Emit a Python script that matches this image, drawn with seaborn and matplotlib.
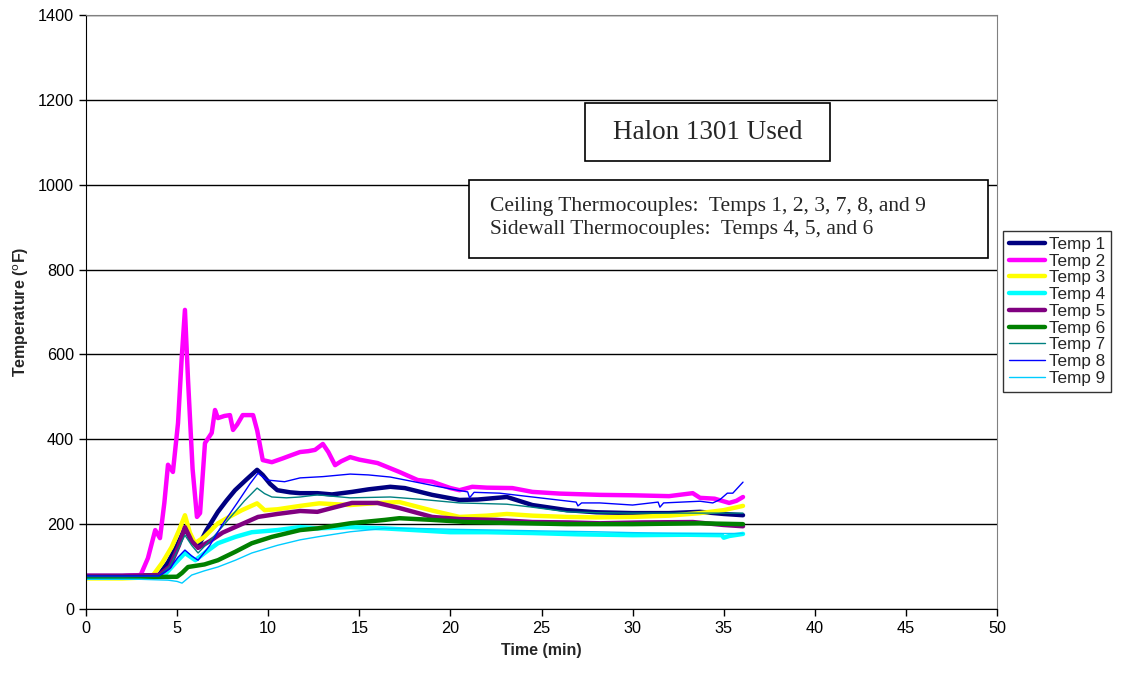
import seaborn as sns
import pandas as pd
import matplotlib.pyplot as plt
from matplotlib.patches import Rectangle

# time (min) / temperature (F)
t1 = [0, 2, 4.0, 4.5, 5.0, 5.43, 5.8, 6.15, 6.6, 7.24, 7.7, 8.18, 8.8, 9.39, 9.7, 10.1, 10.5, 11.2, 11.75, 12.7,
      13.5, 14.6, 15.5, 16.7, 17.5, 19.0, 20.5, 21.5, 23.1, 24.5, 26.4, 28.0, 30.0, 32.0, 33.7, 35.0, 36.06]
temp1 = [78, 78, 80, 110, 150, 190, 160, 146, 185, 229, 255, 280, 305, 328, 316, 295, 280, 275, 273, 273,
         270, 276, 282, 288, 285, 269, 257, 258, 264, 245, 233, 228, 226, 226, 229, 224, 221]

t2 = [0, 1, 2, 3.0, 3.4, 3.8, 4.06, 4.3, 4.5, 4.77, 5.05, 5.25, 5.43, 5.6, 5.85, 6.09, 6.26, 6.53, 6.9, 7.08,
      7.24, 7.6, 7.9, 8.07, 8.3, 8.6, 9.17, 9.4, 9.7, 10.2, 10.8, 11.3, 11.75, 12.2, 12.57, 13.0, 13.3, 13.67,
      14.0, 14.5, 15.0, 16.0, 17.2, 18.2, 19.0, 20.0, 20.5, 21.2, 22.0, 23.4, 24.5, 26.0, 28.2, 30.0, 32.0,
      33.3, 33.7, 34.5, 35.3, 35.7, 36.06]
temp2 = [78, 78, 78, 80, 120, 186, 167, 250, 340, 323, 438, 590, 705, 540, 330, 217, 226, 391, 415, 469,
         450, 455, 457, 422, 435, 457, 457, 420, 351, 346, 355, 363, 370, 372, 375, 389, 370, 339,
         348, 358, 352, 344, 323, 304, 300, 285, 280, 288, 286, 285, 276, 272, 269, 268, 266,
         273, 262, 260, 250, 255, 264]

t3 = [0, 2, 3.6, 4.2, 4.7, 5.1, 5.43, 5.7, 5.98, 6.5, 7.24, 7.9, 8.56, 9.39, 9.8, 10.5, 11.75, 12.8, 14.5,
      16.0, 17.2, 19.0, 20.5, 22.0, 23.1, 24.5, 26.4, 28.0, 30.0, 32.0, 33.7, 35.0, 36.06]
temp3 = [72, 72, 75, 110, 146, 185, 221, 180, 155, 170, 202, 218, 233, 249, 233, 235, 243, 249, 245,
         250, 252, 232, 217, 220, 224, 220, 217, 216, 217, 220, 226, 233, 243]

t4 = [0, 3, 4.3, 4.9, 5.43, 6.0, 6.6, 7.24, 8.2, 9.1, 10.5, 11.75, 12.7, 14.5, 16.4, 18.0, 20.0, 22.0, 24.5,
      27.0, 30.0, 33.0, 34.9, 35.0, 35.3, 36.06]
temp4 = [75, 75, 80, 108, 132, 115, 135, 155, 170, 181, 186, 193, 190, 193, 190, 186, 181, 181, 179,
         176, 174, 175, 174, 168, 172, 177]

t5 = [0, 2, 4.0, 4.6, 5.1, 5.43, 5.8, 6.15, 6.8, 7.5, 8.18, 9.44, 10.5, 11.75, 12.7, 13.5, 14.6, 16.0, 17.2,
      19.0, 20.5, 22.5, 24.5, 26.5, 28.2, 30.5, 33.3, 35.0, 36.06]
temp5 = [78, 78, 80, 100, 150, 193, 160, 144, 160, 180, 193, 217, 224, 231, 229, 238, 250, 250, 238,
         217, 212, 210, 205, 204, 202, 204, 205, 198, 195]

t6 = [0, 3, 5.0, 5.27, 5.6, 6.5, 7.24, 8.2, 9.1, 10.2, 11.75, 12.7, 14.5, 16.4, 17.2, 19.0, 20.9, 23.0, 26.4,
      30.0, 33.7, 36.06]
temp6 = [75, 75, 76, 85, 99, 105, 115, 135, 155, 170, 186, 190, 202, 210, 214, 210, 205, 203, 200,
         200, 202, 200]

t7 = [0, 2, 4.0, 4.6, 5.1, 5.43, 5.8, 6.15, 7.0, 8.0, 8.7, 9.39, 9.8, 10.2, 11.0, 11.75, 12.7, 14.5, 16.7,
      18.5, 20.5, 23.1, 24.5, 26.4, 28.0, 30.0, 33.7, 36.06]
temp7 = [76, 76, 78, 100, 145, 174, 150, 132, 170, 220, 255, 285, 272, 264, 262, 264, 269, 262, 264,
         258, 250, 247, 240, 229, 227, 226, 226, 226]

t8 = [0, 2, 4.0, 4.6, 5.05, 5.43, 5.8, 6.15, 6.8, 7.5, 8.3, 9.0, 9.44, 9.93, 10.9, 11.75, 13.0, 14.5, 15.5,
      16.7, 18.0, 19.4, 20.4, 20.95, 21.05, 21.3, 22.7, 24.5, 26.9, 27.0, 27.2, 28.2, 30.0, 31.4, 31.5,
      31.7, 33.7, 34.4, 34.8, 35.2, 35.5, 36.06]
temp8 = [78, 78, 78, 95, 122, 139, 125, 115, 150, 200, 250, 295, 320, 304, 300, 309, 312, 318, 316,
         311, 300, 288, 280, 276, 262, 275, 273, 264, 252, 243, 250, 250, 245, 252, 240,
         250, 254, 250, 258, 273, 273, 299]

t9 = [0, 3, 4.5, 5.0, 5.27, 5.8, 6.5, 7.24, 8.2, 9.1, 10.5, 11.75, 12.7, 14.5, 16.4, 18.0, 20.0, 22.5, 25.0,
      28.0, 30.0, 33.0, 36.06]
temp9 = [70, 70, 68, 65, 61, 80, 90, 99, 115, 132, 150, 163, 170, 182, 190, 190, 188, 186, 184,
         182, 180, 178, 178]

labels = ['Temp 1', 'Temp 2', 'Temp 3', 'Temp 4', 'Temp 5', 'Temp 6', 'Temp 7', 'Temp 8', 'Temp 9']
times = [t1, t2, t3, t4, t5, t6, t7, t8, t9]
temps = [temp1, temp2, temp3, temp4, temp5, temp6, temp7, temp8, temp9]

colors = ['#000080', '#FF00FF', '#FFFF00', '#00FFFF', '#800080', '#008000', '#008080', '#0000FF', '#00CCFF']
widths = [3.2, 3.2, 3.2, 3.2, 3.2, 3.2, 1.0, 1.0, 1.0]

sns.set_style("white")
plt.rcParams['font.family'] = ['Liberation Sans', 'DejaVu Sans']

fig = plt.figure(figsize=(11.24, 6.77), dpi=100)
ax = fig.add_axes([86 / 1124, 1 - 609 / 677, (997 - 86) / 1124, (609 - 15) / 677])

for lab, t, v, c, w in zip(labels, times, temps, colors, widths):
    df = pd.DataFrame({'time': t, 'temp': v})
    sns.lineplot(data=df, x='time', y='temp', color=c, linewidth=w, label=lab,
                 sort=False, estimator=None, ax=ax)

ax.set_xlim(0, 50)
ax.set_ylim(0, 1400)
ax.set_xticks(range(0, 51, 5))
ax.set_yticks(range(0, 1401, 200))
ax.yaxis.grid(True, color='black', linewidth=1)
ax.set_axisbelow(True)
for side in ['top', 'right']:
    ax.spines[side].set_color('#808080')
for side in ['left', 'bottom']:
    ax.spines[side].set_color('black')
ax.tick_params(axis='both', direction='out', length=5, width=1, labelsize=11.7, colors='black',
               bottom=True, left=True)
ax.set_xlabel('Time (min)', fontsize=11.5, fontweight='bold', labelpad=5)
ax.set_ylabel('Temperature ($^{\\mathrm{o}}$F)', fontsize=11.5, fontweight='bold', labelpad=5)

leg = ax.legend(loc='upper left', bbox_to_anchor=(1003 / 1124, 1 - 231 / 677), bbox_transform=fig.transFigure,
                fontsize=12.3, frameon=True, fancybox=False, handlelength=2.1, handletextpad=0.25,
                labelspacing=0.1, borderpad=0.35, borderaxespad=0)
leg.get_frame().set_edgecolor('black')
leg.get_frame().set_linewidth(1)

# annotation boxes
ax.add_patch(Rectangle((27.39, 1055.9), 40.83 - 27.39, 1192.6 - 1055.9, facecolor='white',
                       edgecolor='black', linewidth=1.2, zorder=5))
ax.text(34.1, 1124, 'Halon 1301 Used', ha='center', va='center', fontsize=19.5,
        family='Liberation Serif', zorder=6)
ax.add_patch(Rectangle((21.02, 827), 49.5 - 21.02, 1011 - 827, facecolor='white',
                       edgecolor='black', linewidth=1.2, zorder=5))
ax.text(22.15, 922, 'Ceiling Thermocouples:  Temps 1, 2, 3, 7, 8, and 9\nSidewall Thermocouples:  Temps 4, 5, and 6',
        ha='left', va='center', fontsize=15.5, family='Liberation Serif', linespacing=1.25, zorder=6)

plt.savefig('out.png', dpi=100)
